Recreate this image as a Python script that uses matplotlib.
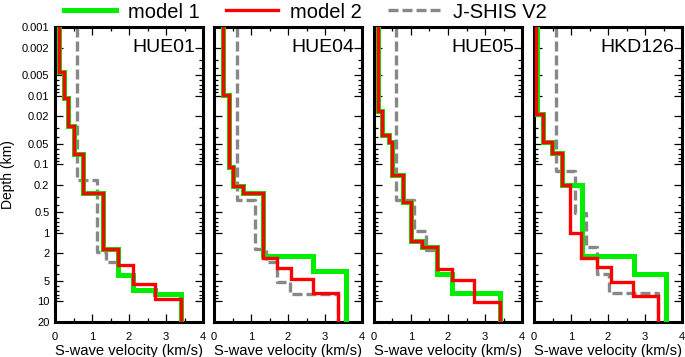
import numpy as np
import matplotlib
matplotlib.use("Agg")
import matplotlib.pyplot as plt
from matplotlib.ticker import FixedLocator, NullFormatter, LogLocator, MultipleLocator
from matplotlib.lines import Line2D

plt.rcParams.update({"font.family": ["Liberation Sans", "DejaVu Sans"], "font.size": 8})

SITES = ["HUE01", "HUE04", "HUE05", "HKD126"]

# velocidade de cada camada (km/s) e profundidade da base da camada (km)
M1_VS = [[0.12, 0.23, 0.36, 0.50, 0.76, 1.31, 1.71, 2.11, 2.69, 3.40],
         [0.24, 0.40, 0.51, 0.78, 1.32, 2.67, 3.56],
         [0.11, 0.22, 0.41, 0.49, 0.79, 1.01, 1.31, 1.71, 2.11, 3.41],
         [0.09, 0.23, 0.48, 0.77, 1.30, 2.69, 3.56]]
M1_BOT = [[0.0045, 0.011, 0.028, 0.071, 0.26, 1.74, 4.1, 6.8, 7.8, 100],
          [0.0098, 0.109, 0.206, 0.26, 2.18, 3.57, 100],
          [0.0165, 0.037, 0.047, 0.145, 0.355, 1.32, 1.6, 4.0, 7.6, 100],
          [0.0185, 0.047, 0.068, 0.20, 2.18, 4.0, 100]]

M2_VS = [[0.12, 0.23, 0.36, 0.50, 0.76, 1.31, 1.71, 2.11, 2.70, 3.40],
         [0.24, 0.40, 0.51, 0.78, 1.32, 1.70, 2.08, 2.68, 3.36],
         [0.11, 0.22, 0.41, 0.49, 0.79, 1.01, 1.31, 1.71, 2.11, 2.70, 3.41],
         [0.05, 0.23, 0.48, 0.77, 0.98, 1.26, 1.70, 2.09, 2.67, 3.36]]
M2_BOT = [[0.0045, 0.011, 0.028, 0.071, 0.26, 1.74, 3.0, 5.5, 9.3, 100],
          [0.0098, 0.109, 0.206, 0.26, 2.35, 3.3, 4.76, 7.6, 100],
          [0.0165, 0.037, 0.047, 0.145, 0.355, 1.32, 1.6, 3.4, 4.88, 10.1, 100],
          [0.0185, 0.047, 0.068, 0.20, 1.0, 2.35, 3.12, 5.3, 8.3, 100]]

JS_VS = [[0.59, 1.13, 1.37, 1.71, 2.11, 2.69, 3.40],
         [0.61, 1.10, 1.41, 1.70, 2.06, 3.36],
         [0.59, 1.08, 1.40, 1.71, 2.11, 3.41],
         [0.59, 1.10, 1.40, 1.71, 2.04, 3.36]]
JS_BOT = [[0.17, 1.88, 2.7, 4.1, 6.8, 7.8, 100],
          [0.33, 1.74, 2.64, 5.2, 7.7, 100],
          [0.33, 0.93, 1.8, 4.0, 7.6, 100],
          [0.124, 0.52, 1.63, 4.0, 7.6, 100]]

YTICKS = [0.001, 0.002, 0.005, 0.01, 0.02, 0.05, 0.1, 0.2, 0.5, 1, 2, 5, 10, 20]
YLABELS = ["0.001", "0.002", "0.005", "0.01", "0.02", "0.05", "0.1", "0.2",
           "0.5", "1", "2", "5", "10", "20"]

GREEN, RED, GRAY = "#00ee00", "#ff0000", "#888888"
DASH = (0, (3.0, 1.2))


def perfil(vs, bot):
    vs = np.asarray(vs, float)
    bot = np.asarray(bot, float)
    top = np.r_[1e-4, bot[:-1]]
    x = np.repeat(vs, 2)
    y = np.column_stack([top, bot]).ravel()
    return x, y


fig = plt.figure(figsize=(6.85, 3.57), dpi=100)
lefts = [55, 214, 374, 534]
for i, site in enumerate(SITES):
    ax = fig.add_axes([lefts[i] / 685, 1 - 322 / 357, 148 / 685, 295 / 357])
    x, y = perfil(JS_VS[i], JS_BOT[i])
    ax.plot(x, y, color=GRAY, lw=2.4, ls=DASH, zorder=2)
    x, y = perfil(M1_VS[i], M1_BOT[i])
    ax.plot(x, y, color=GREEN, lw=3.6, zorder=3, solid_joinstyle="miter")
    x, y = perfil(M2_VS[i], M2_BOT[i])
    ax.plot(x, y, color=RED, lw=2.4, zorder=4, solid_joinstyle="miter")

    ax.set_yscale("log")
    ax.set_ylim(20, 0.001)
    ax.set_xlim(0, 4)
    ax.yaxis.set_major_locator(FixedLocator(YTICKS))
    ax.yaxis.set_minor_locator(LogLocator(base=10, subs=(3, 4, 6, 7, 8, 9), numticks=20))
    ax.yaxis.set_minor_formatter(NullFormatter())
    if i == 0:
        ax.set_yticklabels(YLABELS)
        ax.set_ylabel("Depth (km)", fontsize=10, labelpad=5)
    else:
        ax.set_yticklabels([])
    ax.xaxis.set_major_locator(MultipleLocator(1))
    ax.xaxis.set_minor_locator(MultipleLocator(0.5))
    ax.tick_params(which="both", direction="in", top=True, right=True, width=0.9)
    ax.tick_params(which="major", length=6, labelsize=8)
    ax.tick_params(which="minor", length=3)
    ax.tick_params(axis="x", which="major", pad=7)
    ax.tick_params(axis="y", which="major", pad=4)
    ax.set_xlabel("S-wave velocity (km/s)", fontsize=10.6, labelpad=2)
    for s in ax.spines.values():
        s.set_linewidth(2.2)
    ax.text(0.95, 0.93, site, transform=ax.transAxes, ha="right", va="center",
            fontsize=14)

handles = [Line2D([], [], color=GREEN, lw=3.6),
           Line2D([], [], color=RED, lw=2.4),
           Line2D([], [], color=GRAY, lw=2.4, ls=DASH)]
fig.legend(handles, ["model 1", "model 2", "J-SHIS V2"], loc="center",
           bbox_to_anchor=(305 / 685, 1 - 12 / 357), ncol=3, frameon=False,
           fontsize=14.5, handlelength=2.6, handletextpad=0.6, columnspacing=1.3,
           borderpad=0, borderaxespad=0)

fig.savefig("out.png", dpi=100)
